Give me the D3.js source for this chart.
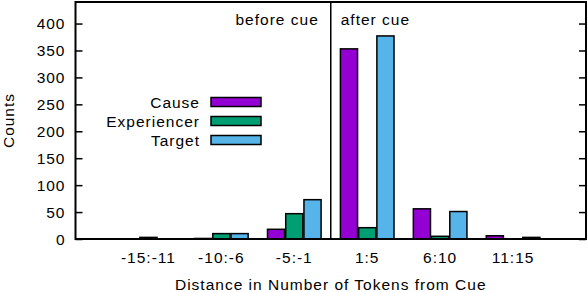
<!DOCTYPE html>
<html lang="en">
<head>
<meta charset="utf-8">
<title>Distance from cue</title>
<script src="https://cdn.jsdelivr.net/npm/d3@7"></script>
<style>
  body { margin: 0; background: #fff; }
  text { font-family: "Liberation Sans", Arial, sans-serif; font-size: 15.5px; letter-spacing: 1px; fill: #000; }
</style>
</head>
<body>
<script>
var categories = ["-15:-11", "-10:-6", "-5:-1", "1:5", "6:10", "11:15"];
var seriesNames = ["Cause", "Experiencer", "Target"];
var cause       = [0, 1, 18, 353, 56, 6];
var experiencer = [3, 10, 47, 21, 5, 0];
var target      = [0, 10, 73, 377, 51, 3];
var yTicks = [0, 50, 100, 150, 200, 250, 300, 350, 400];
var colors = ["#9400d3", "#009e73", "#56b4e9"];

var w = 588, h = 292;
var pLeft = 75.5, pRight = 586, pTop = 2, pBottom = 239;

var svg = d3.select("body").append("svg")
    .attr("width", w)
    .attr("height", h);

// x: categories sit at 0..5 on a -1..6 range, like gnuplot
var x = d3.scaleLinear().domain([-1, 6]).range([pLeft, pRight]);
var y = d3.scaleLinear().domain([0, 440]).range([pBottom, pTop]);

var series = [cause, experiencer, target];
var offset = 0.25, boxw = 0.235;

series.forEach(function(vals, s) {
  svg.append("g").selectAll("rect")
    .data(vals)
    .enter()
    .append("rect")
    .attr("x", function(d, i) { return x(i + (s - 1) * offset - boxw / 2); })
    .attr("width", x(boxw) - x(0))
    .attr("y", function(d) { return y(d); })
    .attr("height", function(d) { return pBottom - y(d); })
    .attr("fill", colors[s])
    .attr("stroke", "#000")
    .attr("stroke-width", 1.5);
});

// y ticks on left and right, pointing inward
var yAxisL = d3.axisRight(y).tickValues(yTicks).tickSize(7).tickFormat("");
svg.append("g").attr("transform", "translate(" + pLeft + ",0)").call(yAxisL)
   .call(function(g) { g.select(".domain").remove(); g.selectAll("text").remove(); g.selectAll("line").attr("stroke-width", 1.5); });
var yAxisR = d3.axisLeft(y).tickValues(yTicks).tickSize(7).tickFormat("");
svg.append("g").attr("transform", "translate(" + pRight + ",0)").call(yAxisR)
   .call(function(g) { g.select(".domain").remove(); g.selectAll("text").remove(); g.selectAll("line").attr("stroke-width", 1.5); });

svg.selectAll("text.ytick")
   .data(yTicks)
   .enter()
   .append("text")
   .attr("class", "ytick")
   .attr("x", pLeft - 10)
   .attr("y", function(d) { return y(d) + 5.5; })
   .attr("text-anchor", "end")
   .text(function(d) { return d; });

svg.selectAll("text.xtick")
   .data(categories)
   .enter()
   .append("text")
   .attr("class", "xtick")
   .attr("x", function(d, i) { return x(i); })
   .attr("y", 263)
   .attr("text-anchor", "middle")
   .text(function(d) { return d; });

// frame
svg.append("rect")
   .attr("x", pLeft).attr("y", pTop)
   .attr("width", pRight - pLeft).attr("height", pBottom - pTop)
   .attr("fill", "none").attr("stroke", "#000").attr("stroke-width", 2);

// cue divider
svg.append("line")
   .attr("x1", x(2.5)).attr("x2", x(2.5))
   .attr("y1", pTop).attr("y2", pBottom)
   .attr("stroke", "#000").attr("stroke-width", 1.5);

svg.append("text").attr("x", x(2.5) - 12).attr("y", 25).attr("text-anchor", "end").text("before cue");
svg.append("text").attr("x", x(2.5) + 10).attr("y", 25).text("after cue");

// legend
var legend = svg.append("g").selectAll("g")
    .data(seriesNames)
    .enter()
    .append("g")
    .attr("transform", function(d, i) { return "translate(0," + (102 + i * 19) + ")"; });
legend.append("text")
   .attr("x", 200).attr("y", 5.5)
   .attr("text-anchor", "end")
   .text(function(d) { return d; });
legend.append("rect")
   .attr("x", 211).attr("y", -4.5)
   .attr("width", 50).attr("height", 9)
   .attr("fill", function(d, i) { return colors[i]; })
   .attr("stroke", "#000").attr("stroke-width", 1.5);

// axis titles
svg.append("text")
   .attr("x", (pLeft + pRight) / 2).attr("y", 290)
   .attr("text-anchor", "middle")
   .text("Distance in Number of Tokens from Cue");
svg.append("text")
   .attr("transform", "translate(14," + ((pTop + pBottom) / 2) + ") rotate(-90)")
   .attr("text-anchor", "middle")
   .text("Counts");
</script>
</body>
</html>
